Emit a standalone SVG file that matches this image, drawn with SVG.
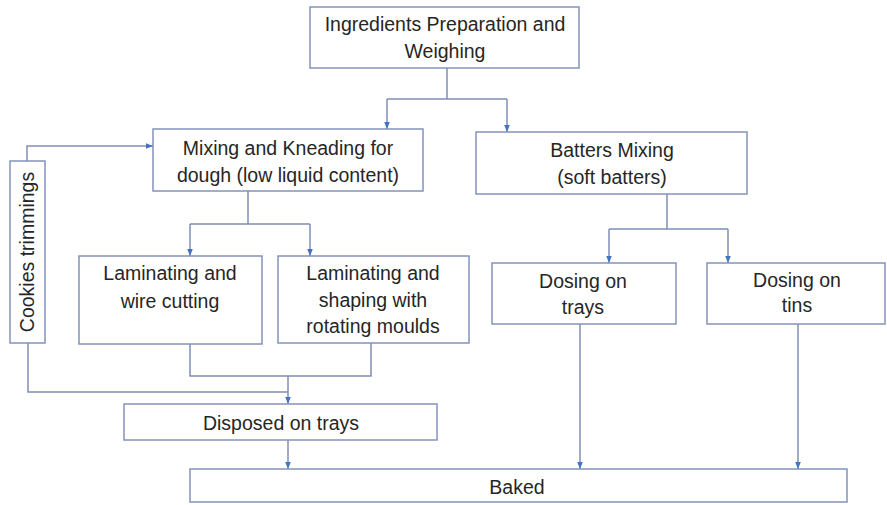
<svg xmlns="http://www.w3.org/2000/svg" width="887" height="505" viewBox="0 0 887 505">
<defs>
<marker id="arr" viewBox="0 0 10 10" refX="10" refY="5" markerWidth="7" markerHeight="7" markerUnits="userSpaceOnUse" orient="auto">
<path d="M0,1 L10,5 L0,9 Z" fill="#4472c4"/>
</marker>
<style>
.box{fill:#fff;stroke:#8494b8;stroke-width:1.5}
.t{font-family:"Liberation Sans",Arial,sans-serif;font-size:19.5px;fill:#262626;text-anchor:middle;dominant-baseline:central}
.c{fill:none;stroke:#7f8fb5;stroke-width:1.5}
.ca{fill:none;stroke:#7f8fb5;stroke-width:1.5;marker-end:url(#arr)}
</style>
</defs>
<rect width="887" height="505" fill="#fff"/>
<g id="connectors">
<path class="c" d="M447,68 V99 M387,99 H507"/>
<path class="ca" d="M387,99 V129"/>
<path class="ca" d="M507,99 V132"/>
<path class="ca" d="M27,161 V146 H153"/>
<path class="c" d="M248,191 V224 M190,224 H310"/>
<path class="ca" d="M190,224 V256"/>
<path class="ca" d="M310,224 V256"/>
<path class="c" d="M667,194 V229 M609,229 H728"/>
<path class="ca" d="M609,229 V263"/>
<path class="ca" d="M728,229 V263"/>
<path class="c" d="M190,344 V376 H371 V343"/>
<path class="c" d="M28,343 V392 H288"/>
<path class="ca" d="M288,376 V404"/>
<path class="ca" d="M288,440 V469"/>
<path class="ca" d="M580,324 V469"/>
<path class="ca" d="M798,324 V469"/>
</g>
<g id="ingredients"><rect class="box" x="310" y="7" width="269" height="61"/>
<text class="t" x="445" y="24">Ingredients Preparation and</text><text class="t" x="445" y="51">Weighing</text></g>
<g id="mixing"><rect class="box" x="153" y="129" width="270" height="62"/>
<text class="t" x="288" y="148">Mixing and Kneading for</text><text class="t" x="288" y="175">dough (low liquid content)</text></g>
<g id="batters"><rect class="box" x="476" y="132" width="271" height="62"/>
<text class="t" x="612" y="150">Batters Mixing</text><text class="t" x="612" y="177">(soft batters)</text></g>
<g id="cookies"><rect class="box" x="10" y="161" width="35" height="182"/>
<text class="t" transform="translate(27,252) rotate(-90)">Cookies trimmings</text></g>
<g id="lam-wire"><rect class="box" x="79" y="256" width="183" height="88"/>
<text class="t" x="170" y="273">Laminating and</text><text class="t" x="170" y="301">wire cutting</text></g>
<g id="lam-shape"><rect class="box" x="278" y="256" width="191" height="87"/>
<text class="t" x="373" y="273">Laminating and</text><text class="t" x="373" y="300">shaping with</text><text class="t" x="373" y="326">rotating moulds</text></g>
<g id="dosing-trays"><rect class="box" x="492" y="263" width="184" height="61"/>
<text class="t" x="583" y="281">Dosing on</text><text class="t" x="583" y="307">trays</text></g>
<g id="dosing-tins"><rect class="box" x="707" y="263" width="178" height="61"/>
<text class="t" x="797" y="280">Dosing on</text><text class="t" x="797" y="305">tins</text></g>
<g id="disposed"><rect class="box" x="124" y="404" width="313" height="36"/>
<text class="t" x="281" y="423">Disposed on trays</text></g>
<g id="baked"><rect class="box" x="190" y="469" width="657" height="33"/>
<text class="t" x="517" y="487">Baked</text></g>
</svg>
